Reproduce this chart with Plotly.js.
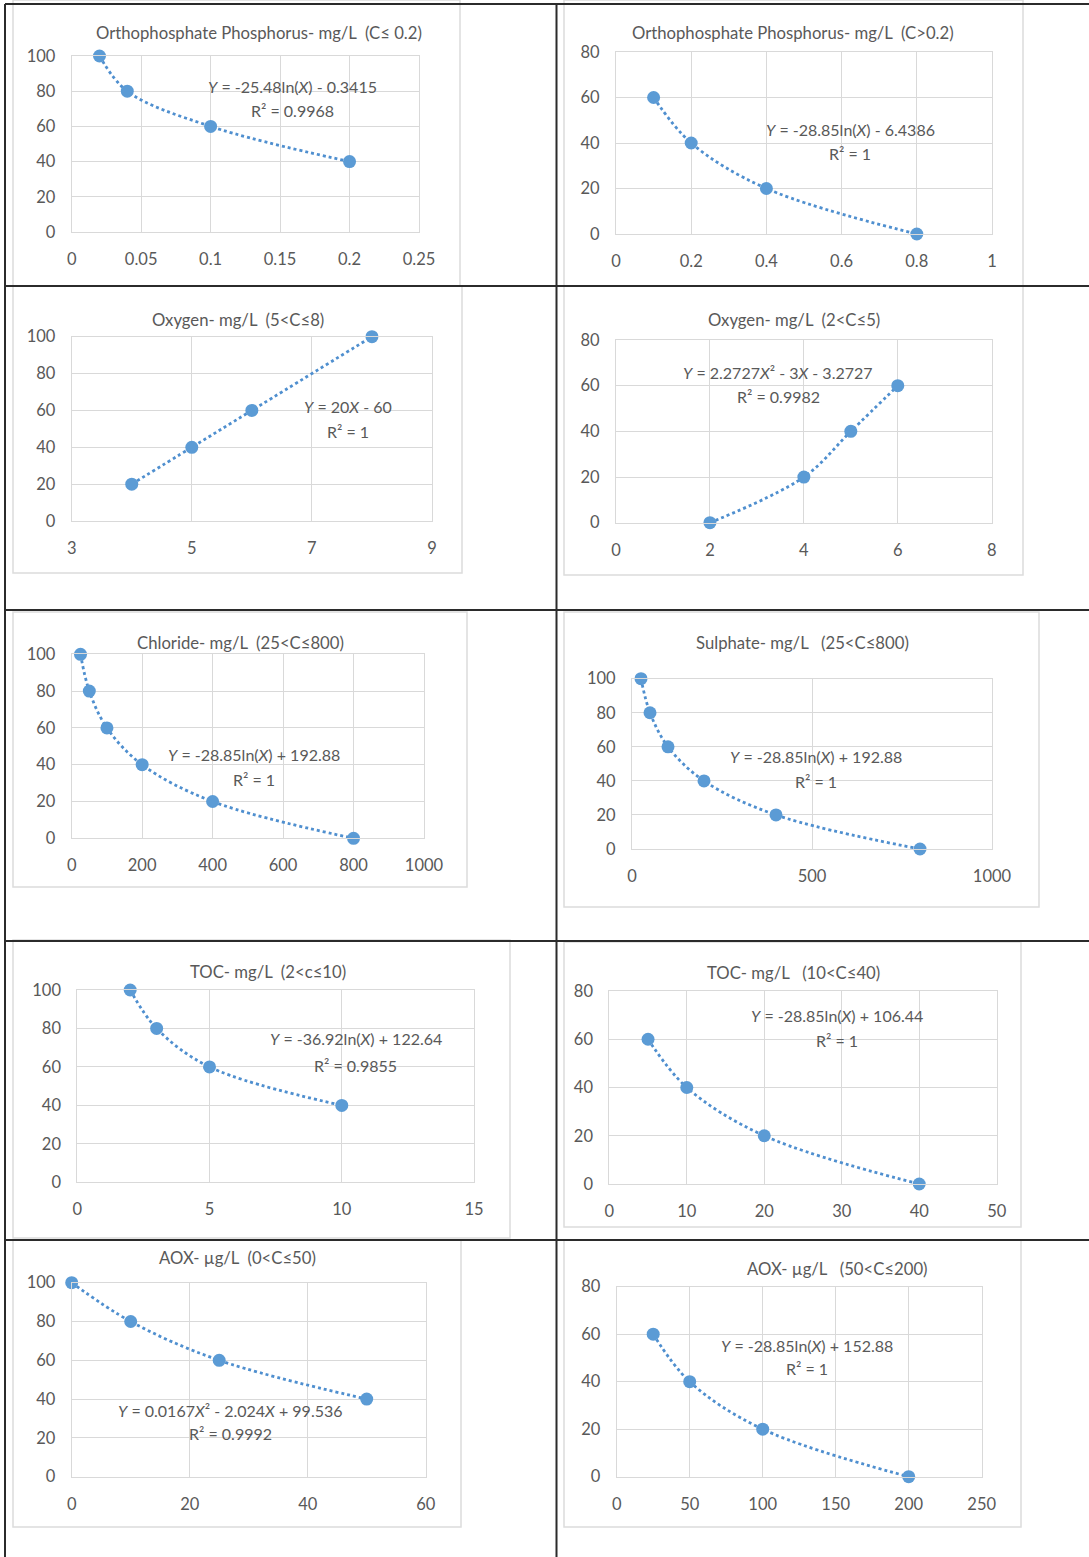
<!DOCTYPE html>
<html>
<head>
<meta charset="utf-8">
<script src="https://cdn.plot.ly/plotly-3.0.1.min.js"></script>
<style>html,body{margin:0;padding:0;background:#fff;}#chart{width:1089px;height:1557px;}</style>
</head>
<body>
<div id="chart"></div>
<script>
// ---------- DATA ----------
const titles = [
  "Orthophosphate Phosphorus- mg/L\u00a0 (C≤ 0.2)",
  "Orthophosphate Phosphorus- mg/L\u00a0\u00a0(C>0.2)",
  "Oxygen- mg/L\u00a0 (5<C≤8)",
  "Oxygen- mg/L\u00a0 (2<C≤5)",
  "Chloride- mg/L\u00a0 (25<C≤800)",
  "Sulphate- mg/L\u00a0\u00a0 (25<C≤800)",
  "TOC- mg/L\u00a0 (2<c≤10)",
  "TOC- mg/L\u00a0\u00a0 (10<C≤40)",
  "AOX- µg/L\u00a0 (0<C≤50)",
  "AOX- µg/L\u00a0\u00a0 (50<C≤200)"
];
const equations = [
  "<i>Y</i> = -25.48ln(<i>X</i>) - 0.3415",
  "<i>Y</i> = -28.85ln(<i>X</i>) - 6.4386",
  "<i>Y</i> = 20<i>X</i> - 60",
  "<i>Y</i> = 2.2727<i>X</i>² - 3<i>X</i> - 3.2727",
  "<i>Y</i> = -28.85ln(<i>X</i>) + 192.88",
  "<i>Y</i> = -28.85ln(<i>X</i>) + 192.88",
  "<i>Y</i> = -36.92ln(<i>X</i>) + 122.64",
  "<i>Y</i> = -28.85ln(<i>X</i>) + 106.44",
  "<i>Y</i> = 0.0167<i>X</i>² - 2.024<i>X</i> + 99.536",
  "<i>Y</i> = -28.85ln(<i>X</i>) + 152.88"
];
const rSquared = ["R² = 0.9968","R² = 1","R² = 1","R² = 0.9982","R² = 1","R² = 1","R² = 0.9855","R² = 1","R² = 0.9992","R² = 1"];

const phosLowX = [0.02, 0.04, 0.1, 0.2];   const phosLowY = [100, 80, 60, 40];
const phosHighX = [0.1, 0.2, 0.4, 0.8];    const phosHighY = [60, 40, 20, 0];
const oxyHighX = [4, 5, 6, 8];             const oxyHighY = [20, 40, 60, 100];
const oxyLowX = [2, 4, 5, 6];              const oxyLowY = [0, 20, 40, 60];
const chlorideX = [25, 50, 100, 200, 400, 800]; const chlorideY = [100, 80, 60, 40, 20, 0];
const sulphateX = [25, 50, 100, 200, 400, 800]; const sulphateY = [100, 80, 60, 40, 20, 0];
const tocLowX = [2, 3, 5, 10];             const tocLowY = [100, 80, 60, 40];
const tocHighX = [5, 10, 20, 40];          const tocHighY = [60, 40, 20, 0];
const aoxLowX = [0, 10, 25, 50];           const aoxLowY = [100, 80, 60, 40];
const aoxHighX = [25, 50, 100, 200];       const aoxHighY = [60, 40, 20, 0];

const xRanges = [[0,0.25],[0,1],[3,9],[0,8],[0,1000],[0,1000],[0,15],[0,50],[0,60],[0,250]];
const xSteps  = [0.05, 0.2, 2, 2, 200, 500, 5, 10, 20, 50];
const yRanges = [[0,100],[0,80],[0,100],[0,80],[0,100],[0,100],[0,100],[0,80],[0,100],[0,80]];
const ySteps  = [20,20,20,20,20,20,20,20,20,20];

// ---------- LAYOUT (pixel positions) ----------
const W = 1089, H = 1557;
const seriesX = [phosLowX, phosHighX, oxyHighX, oxyLowX, chlorideX, sulphateX, tocLowX, tocHighX, aoxLowX, aoxHighX];
const seriesY = [phosLowY, phosHighY, oxyHighY, oxyLowY, chlorideY, sulphateY, tocLowY, tocHighY, aoxLowY, aoxHighY];
// plot box: [left, right, top, bottom]
const boxes = [
  [71.7, 419, 56, 232], [616, 992, 52, 234],
  [71.7, 432, 336.7, 521], [616, 991.7, 340, 522.7],
  [71.7, 424, 654.3, 838.3], [632, 992, 678.7, 849],
  [77.3, 474, 990, 1182.3], [609.3, 996.7, 991, 1184],
  [71.7, 425.7, 1282.7, 1476.7], [616.7, 981.7, 1286.7, 1476.7]
];
const titlePos = [[259,33],[793,33],[237.5,320],[793.7,320],[240,643],[802,642.7],[268,972],[793,973],[237.3,1258],[837,1269]];
const eqPos = [[292,87,111],[850,130,154],[347.5,407,432],[778,372.7,396.7],[253.7,754,779],[815.7,756.7,781],[355.5,1038.3,1065],[836.5,1015,1040],[230,1410,1433],[806.8,1345,1368]];
const frames = [
  [13,460,0,286],[564,1023,0,286],
  [13,462,286,573],[564,1023,286,575],
  [13,467,612,887],[564,1039,612,907],
  [13,510,940,1238],[564,1021,942,1227],
  [13,461,1240,1527],[564,1021,1240,1527]
];

const FONT = "Lato, 'Open Sans', sans-serif";
const GRAY = "#595959";
const BLUE = "#5b9bd5";
const fx = px => px / W;
const fy = py => 1 - py / H;

const data = [];
const layout = {
  width: W, height: H,
  margin: {l:0, r:0, t:0, b:0},
  paper_bgcolor: "#fff", plot_bgcolor: "#fff",
  showlegend: false,
  font: {family: FONT, color: GRAY, size: 16},
  annotations: [], shapes: []
};

for (let i = 0; i < 10; i++) {
  const n = i + 1;
  const xa = "x" + (n === 1 ? "" : n), ya = "y" + (n === 1 ? "" : n);
  const b = boxes[i];
  data.push({
    x: seriesX[i], y: seriesY[i], xaxis: xa, yaxis: ya,
    type: "scatter", mode: "lines",
    line: {color: "#4f8fcf", width: 2.8, dash: "dot", shape: "spline"},
    cliponaxis: false, hoverinfo: "skip"
  });
  data.push({
    x: seriesX[i], y: seriesY[i], xaxis: xa, yaxis: ya,
    type: "scatter", mode: "markers",
    marker: {color: BLUE, size: 13},
    cliponaxis: false
  });
  const common = {
    showgrid: true, gridcolor: "#d9d9d9", gridwidth: 1,
    zeroline: false, showline: true, linecolor: "#d9d9d9", linewidth: 1, mirror: true,
    ticks: "", tickfont: {family: FONT, size: 16.5, color: GRAY}, fixedrange: true
  };
  layout["xaxis" + (n === 1 ? "" : n)] = Object.assign({}, common, {
    domain: [fx(b[0]), fx(b[1])], range: xRanges[i], dtick: xSteps[i], tick0: xRanges[i][0],
    anchor: ya, ticklabelstandoff: 12
  });
  layout["yaxis" + (n === 1 ? "" : n)] = Object.assign({}, common, {
    domain: [fy(b[3]), fy(b[2])], range: yRanges[i], dtick: ySteps[i], tick0: 0,
    anchor: xa, ticklabelstandoff: 12
  });
  layout.annotations.push({
    text: titles[i], xref: "paper", yref: "paper", x: fx(titlePos[i][0]), y: fy(titlePos[i][1]),
    xanchor: "center", yanchor: "middle", showarrow: false,
    font: {family: FONT, size: 16.7, color: GRAY}
  });
  layout.annotations.push({
    text: equations[i], xref: "paper", yref: "paper", x: fx(eqPos[i][0]), y: fy(eqPos[i][1]),
    xanchor: "center", yanchor: "middle", showarrow: false,
    font: {family: FONT, size: 16, color: GRAY}
  });
  layout.annotations.push({
    text: rSquared[i], xref: "paper", yref: "paper", x: fx(eqPos[i][0]), y: fy(eqPos[i][2]),
    xanchor: "center", yanchor: "middle", showarrow: false,
    font: {family: FONT, size: 16, color: GRAY}
  });
  const f = frames[i];
  layout.shapes.push({
    type: "rect", xref: "paper", yref: "paper", layer: "below",
    x0: fx(f[0]), x1: fx(f[1]), y0: fy(f[3]), y1: fy(f[2]),
    line: {color: "#dcdcdc", width: 1.5}, fillcolor: "rgba(0,0,0,0)"
  });
}

// table borders
const hLines = [4, 286, 610, 941, 1240];
hLines.forEach(py => layout.shapes.push({
  type: "line", xref: "paper", yref: "paper", x0: fx(5), x1: 1, y0: fy(py), y1: fy(py),
  line: {color: "#2b2b2b", width: 2}
}));
[5, 556.5].forEach(px => layout.shapes.push({
  type: "line", xref: "paper", yref: "paper", x0: fx(px), x1: fx(px), y0: 0, y1: fy(4),
  line: {color: "#2b2b2b", width: 2}
}));

Plotly.newPlot("chart", data, layout, {staticPlot: true, displayModeBar: false});
</script>
</body>
</html>
